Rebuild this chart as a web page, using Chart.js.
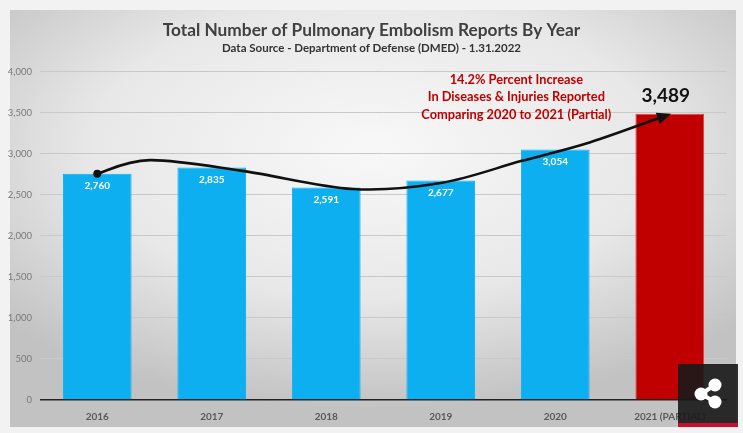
<!DOCTYPE html>
<html>
<head>
<meta charset="utf-8">
<script src="https://cdn.jsdelivr.net/npm/chart.js"></script>
<style>
html, body { margin: 0; padding: 0; background: #f2f2f2; }
#wrap { position: relative; width: 743px; height: 433px; }
#share { position: absolute; left: 678px; top: 364px; width: 60px; height: 59px;
  background: rgba(24, 24, 24, 0.9); border-bottom: 4px solid #c8102e; }
</style>
</head>
<body>
<div id="wrap">
  <canvas id="Chart1"></canvas>
  <div id="share">
    <svg width="60" height="59" viewBox="0 0 60 59">
      <line x1="23" y1="30" x2="37" y2="21" stroke="#fff" stroke-width="4"/>
      <line x1="23" y1="30" x2="37" y2="38" stroke="#fff" stroke-width="4"/>
      <circle cx="37" cy="21" r="6.5" fill="#fff"/>
      <circle cx="23" cy="30" r="6.5" fill="#fff"/>
      <circle cx="37" cy="38" r="6.5" fill="#fff"/>
    </svg>
  </div>
</div>
<script>
// data
var years = ['2016', '2017', '2018', '2019', '2020', '2021 (PARTIAL)'];
var reports = [2760, 2835, 2591, 2677, 3054, 3489];
var barColors = ['#0daff0', '#0daff0', '#0daff0', '#0daff0', '#0daff0', '#c00000'];
var yMax = 4000;
var yStep = 500;

// the hand drawn trend arrow (category position, value)
var curveAt = [0, 0.46, 1.28, 2.23, 3.0, 3.7, 4.3, 4.97];
var curveVal = [2760, 2925, 2791, 2573, 2646, 2913, 3140, 3470];

// red note
var noteLines = ['14.2% Percent Increase', 'In Diseases & Injuries Reported', 'Comparing 2020 to 2021 (Partial)'];
var noteAt = 3.66;
var noteVal = 3908;


var panelBg = {
	id: 'panelBg',
	beforeDraw: function(chart) {
		var c = chart.ctx;
		c.save();
		c.fillStyle = '#f2f2f2';
		c.fillRect(0, 0, chart.width, chart.height);
		c.beginPath();
		c.rect(10, 10, 726, 417);
		c.clip();
		c.translate(372, 150);
		c.scale(1.9, 1);
		var g = c.createRadialGradient(0, 0, 10, 0, 0, 260);
		g.addColorStop(0, '#f7f7f7');
		g.addColorStop(0.55, '#e8e8e8');
		g.addColorStop(1, '#c2c2c2');
		c.fillStyle = g;
		c.fillRect(-250, -200, 500, 500);
		c.restore();
	}
};

var barLabels = {
	id: 'barLabels',
	afterDatasetsDraw: function(chart) {
		var c = chart.ctx;
		var bars = chart.getDatasetMeta(0).data;
		c.save();
		c.textAlign = 'center';
		c.textBaseline = 'middle';
		bars.forEach(function(bar, i) {
			var txt = reports[i].toLocaleString('en-US');
			if (i == bars.length - 1) {
				c.fillStyle = '#111';
				c.font = 'bold 19px Lato';
				c.fillText(txt, bar.x - 4, bar.y - 18);
			} else {
				c.fillStyle = '#ffffff';
				c.font = 'bold 10px Lato';
				c.fillText(txt, bar.x, bar.y + 12);
			}
		});
		c.restore();
	}
};

var trendArrow = {
	id: 'trendArrow',
	afterDraw: function(chart) {
		var c = chart.ctx;
		var xs = chart.scales.x, ys = chart.scales.y;
		var p = curveAt.map(function(a, i) {
			return { x: xs.getPixelForValue(a), y: ys.getPixelForValue(curveVal[i]) };
		});
		c.save();
		c.strokeStyle = '#111';
		c.lineWidth = 2.6;
		c.beginPath();
		c.moveTo(p[0].x, p[0].y);
		var lastCp;
		for (var i = 0; i < p.length - 1; i++) {
			var p0 = p[i - 1] || p[i], p1 = p[i], p2 = p[i + 1], p3 = p[i + 2] || p2;
			var c1 = { x: p1.x + (p2.x - p0.x) / 6, y: p1.y + (p2.y - p0.y) / 6 };
			var c2 = { x: p2.x - (p3.x - p1.x) / 6, y: p2.y - (p3.y - p1.y) / 6 };
			c.bezierCurveTo(c1.x, c1.y, c2.x, c2.y, p2.x, p2.y);
			lastCp = c2;
		}
		c.stroke();

		// start dot
		c.fillStyle = '#111';
		c.beginPath();
		c.arc(p[0].x, p[0].y, 4, 0, Math.PI * 2);
		c.fill();

		// arrow head
		var end = p[p.length - 1];
		var ang = Math.atan2(end.y - lastCp.y, end.x - lastCp.x);
		c.translate(end.x, end.y);
		c.rotate(ang);
		c.beginPath();
		c.moveTo(5, 0);
		c.lineTo(-9, -6);
		c.lineTo(-9, 6);
		c.closePath();
		c.fill();
		c.restore();

		// red note
		var nx = xs.getPixelForValue(noteAt), ny = ys.getPixelForValue(noteVal);
		c.save();
		c.fillStyle = '#c00000';
		c.font = 'bold 12.8px Lato';
		c.textAlign = 'center';
		c.textBaseline = 'middle';
		noteLines.forEach(function(t, i) {
			c.fillText(t, nx, ny + i * 17.5);
		});
		c.restore();
	}
};


var context = document.getElementById('Chart1').getContext('2d');

var myChart = new Chart(context, {

	type: 'bar',

	data: {
		labels: years,
		datasets: [{
			data: reports,
			backgroundColor: barColors,
			borderColor: barColors.map(function(col) { return col == '#c00000' ? '#e2403a' : col; }),
			borderWidth: 1,
			barPercentage: 0.6,
			categoryPercentage: 1.0
		}]
	},

	options: {
		responsive: true,
		maintainAspectRatio: false,
		animation: false,
		layout: { padding: { left: 0, right: 0, top: 0, bottom: 8 } },
		plugins: {
			legend: { display: false },
			tooltip: { enabled: false },
			title: {
				display: true,
				text: 'Total Number of Pulmonary Embolism Reports By Year',
				color: '#404040',
				font: { family: 'Lato', size: 17.3, weight: 'bold' },
				padding: { top: 20, bottom: 1 }
			},
			subtitle: {
				display: true,
				text: 'Data Source - Department of Defense (DMED) - 1.31.2022',
				color: '#333333',
				font: { family: 'Lato', size: 11.5, weight: 'bold' },
				padding: { top: 0, bottom: 16.4 }
			}
		},
		scales: {
			x: {
				grid: { display: false },
				border: { display: false },
				ticks: {
					color: '#595959',
					font: { family: 'Lato', size: 10, weight: 'bold' },
					padding: 3
				},
				afterFit: function(scale) { scale.height = 25; }
			},
			y: {
				min: 0,
				max: yMax,
				border: { display: false },
				grid: {
					drawTicks: false,
					color: function(ctx) { return ctx.tick.value == 0 ? '#222222' : '#c9c9c9'; },
					lineWidth: function(ctx) { return ctx.tick.value == 0 ? 1.6 : 1; }
				},
				ticks: {
					stepSize: yStep,
					color: '#7a7a7a',
					font: { family: 'Lato', size: 9.5 },
					padding: 8
				},
				afterFit: function(scale) { scale.width = 40; }
			},
			// empty right axis, only keeps the right margin
			y2: {
				position: 'right',
				grid: { display: false },
				border: { display: false },
				ticks: { display: false },
				afterFit: function(scale) { scale.width = 16; }
			}
		}
	},

	plugins: [panelBg, barLabels, trendArrow]
});
</script>
</body>
</html>
